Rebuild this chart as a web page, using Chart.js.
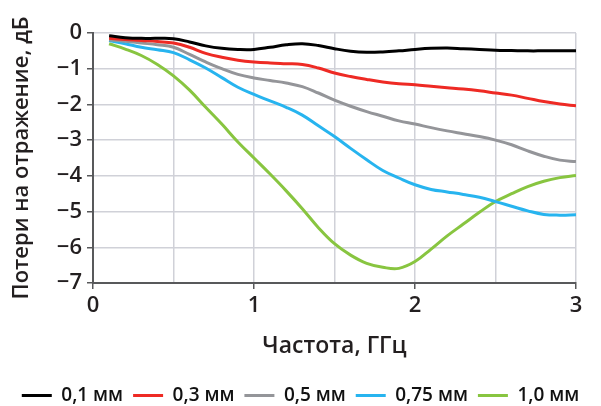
<!DOCTYPE html>
<html>
<head>
<meta charset="utf-8">
<script src="https://cdn.jsdelivr.net/npm/chart.js@4"></script>
<style>
  html, body { margin: 0; padding: 0; background: #fff; }
  #wrap { width: 601px; height: 406px; }
</style>
</head>
<body>
<div id="wrap"><canvas id="lossChart" width="601" height="406"></canvas></div>
<script>
// Return loss vs frequency for different thicknesses

const freq = [0.1,0.2,0.3,0.4,0.5,0.6,0.7,0.8,0.9,1.0,1.1,1.2,1.3,1.4,1.5,1.6,1.7,1.8,1.9,2.0,2.1,2.2,2.3,2.4,2.5,2.6,2.7,2.8,2.9,3.0];
const seriesNames = ['0,1 мм', '0,3 мм', '0,5 мм', '0,75 мм', '1,0 мм'];
const loss01 = [-0.08,-0.13,-0.15,-0.15,-0.16,-0.25,-0.36,-0.43,-0.46,-0.46,-0.40,-0.33,-0.30,-0.35,-0.44,-0.51,-0.54,-0.53,-0.50,-0.46,-0.43,-0.42,-0.44,-0.46,-0.48,-0.49,-0.50,-0.50,-0.50,-0.50];
const loss03 = [-0.15,-0.18,-0.21,-0.24,-0.28,-0.40,-0.57,-0.68,-0.76,-0.81,-0.84,-0.86,-0.88,-0.98,-1.12,-1.22,-1.30,-1.37,-1.42,-1.45,-1.49,-1.53,-1.57,-1.62,-1.68,-1.74,-1.83,-1.92,-1.99,-2.04];
const loss05 = [-0.19,-0.23,-0.28,-0.33,-0.40,-0.60,-0.81,-1.00,-1.16,-1.26,-1.33,-1.40,-1.50,-1.68,-1.88,-2.05,-2.20,-2.33,-2.46,-2.55,-2.65,-2.74,-2.82,-2.90,-3.00,-3.13,-3.30,-3.45,-3.56,-3.60];
const loss075 = [-0.21,-0.30,-0.40,-0.47,-0.55,-0.75,-0.98,-1.25,-1.52,-1.72,-1.90,-2.08,-2.30,-2.60,-2.90,-3.23,-3.55,-3.85,-4.06,-4.25,-4.38,-4.45,-4.52,-4.60,-4.72,-4.85,-4.98,-5.08,-5.10,-5.09];
const loss10 = [-0.30,-0.45,-0.63,-0.88,-1.20,-1.60,-2.08,-2.55,-3.05,-3.50,-3.95,-4.42,-4.92,-5.45,-5.90,-6.22,-6.45,-6.56,-6.59,-6.40,-6.05,-5.68,-5.35,-5.02,-4.72,-4.50,-4.30,-4.15,-4.05,-3.99];
const xTickLabels = ['0', '1', '2', '3'];
const yTickLabels = ['0', '−1', '−2', '−3', '−4', '−5', '−6', '−7'];

const colors = ['#000000', '#ee2a24', '#949599', '#27b4ef', '#88c540'];
const allSeries = [loss01, loss03, loss05, loss075, loss10];

const FONT = 'Open Sans';
const TEXT = '#231f20';

const datasets = allSeries.map((vals, i) => ({
  label: seriesNames[i],
  data: vals.map((v, j) => ({ x: freq[j], y: v })),
  borderColor: colors[i],
  backgroundColor: colors[i],
  borderWidth: 3,
  pointRadius: 0,
  tension: 0.4,
  fill: false,
  pointStyle: 'line',
}));

new Chart(document.getElementById('lossChart'), {
  type: 'line',
  data: { datasets },
  options: {
    responsive: false,
    animation: false,
    devicePixelRatio: 1,
    layout: { padding: { top: 33, right: 0, left: 0, bottom: -9 } },
    plugins: {
      tooltip: { enabled: false },
      legend: {
        position: 'bottom',
        labels: {
          usePointStyle: true,
          pointStyleWidth: 30,
          boxHeight: 3,
          padding: 10,
          color: '#111',
          font: { family: FONT, size: 19, weight: '600' },
        }
      }
    },
    scales: {
      x: {
        type: 'linear',
        min: 0, max: 3,
        ticks: {
          stepSize: 0.5,
          autoSkip: false,
          maxRotation: 0,
          padding: 4,
          color: TEXT,
          font: { family: FONT, size: 22, weight: '600' },
          callback: (v) => Number.isInteger(v) ? xTickLabels[v] : '',
        },
        grid: {
          color: '#d0d1d8',
          lineWidth: 1.5,
          tickLength: 6,
          tickColor: (c) => Number.isInteger(c.tick && c.tick.value) ? '#58595b' : 'rgba(0,0,0,0)',
        },
        border: { color: '#58595b', width: 2 },
        title: {
          display: true,
          text: 'Частота, ГГц',
          color: TEXT,
          font: { family: FONT, size: 23, weight: '600' },
          padding: { top: 9, bottom: 16 },
        },
      },
      y: {
        min: -7, max: 0,
        afterFit: (scale) => { scale.width = 93; },
        ticks: {
          stepSize: 1,
          padding: 5,
          color: TEXT,
          font: { family: FONT, size: 22, weight: '600' },
          callback: (v) => yTickLabels[-v],
        },
        grid: {
          color: '#d0d1d8',
          lineWidth: 1.5,
          tickLength: 6,
          tickColor: '#58595b',
        },
        border: { color: '#58595b', width: 2 },
        title: {
          display: true,
          text: 'Потери на отражение, дБ',
          color: TEXT,
          font: { family: FONT, size: 22, weight: '600' },
          padding: { top: 9, bottom: 0 },
        },
      },
      // empty right-hand axis that only reserves the margin right of the plot
      yRight: {
        position: 'right',
        min: -7, max: 0,
        afterFit: (scale) => { scale.width = 25; },
        ticks: { display: false },
        grid: { display: false, drawTicks: false },
        border: { display: false },
      }
    }
  }
});
</script>
</body>
</html>
